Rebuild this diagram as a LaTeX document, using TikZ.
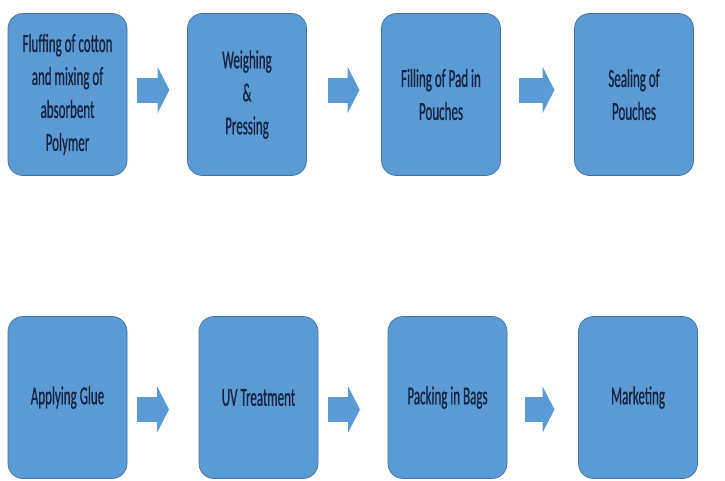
\documentclass[tikz,border=0pt]{standalone}
\usepackage{fontspec}
\setmainfont{Carlito}[FakeStretch=0.5, FakeBold=0.6]
\usepackage{tikz}
\usetikzlibrary{arrows.meta, positioning, shapes}

\definecolor{boxblue}{RGB}{91,155,213}
\definecolor{boxedge}{RGB}{65,113,156}
\definecolor{boxtext}{RGB}{22,34,62}

\begin{document}
\begin{tikzpicture}[x=1pt, y=-1pt, every node/.style={outer sep=0pt}]
\tikzstyle{stepbox}=[draw=boxedge, fill=boxblue, line width=0.7pt, rounded corners=15pt, minimum width=119pt, minimum height=162pt, align=center, text=boxtext, font=\fontsize{26}{33}\selectfont]

\tikzstyle{blockarrow}=[draw=boxblue, line width=25pt, -{Triangle[width=46pt, length=12pt]}]

\useasboundingbox [fill=white] (0,0) rectangle (725,480);

% first row
\node (fluff) [stepbox] at (67.5,94.5) {Fluffing of cotton\\and mixing of\\absorbent\\Polymer};
\node (weigh) [stepbox] at (247,94.5) {Weighing\\\&\\Pressing};
\node (fill) [stepbox] at (441,94.5) {Filling of Pad in\\Pouches};
\node (seal) [stepbox] at (634,94.5) {Sealing of\\Pouches};

% second row
\node (glue) [stepbox] at (67.5,397.5) {Applying Glue};
\node (uv) [stepbox] at (258.5,397.5) {UV Treatment};
\node (pack) [stepbox] at (447.5,397.5) {Packing in Bags};
\node (market) [stepbox] at (638,397.5) {Marketing};

\draw [blockarrow, shorten <=10pt, shorten >=18pt] ([yshift=4.5pt]fluff.east) -- ([yshift=4.5pt]weigh.west);
\draw [blockarrow, shorten <=21pt, shorten >=22pt] ([yshift=4.5pt]weigh.east) -- ([yshift=4.5pt]fill.west);
\draw [blockarrow, shorten <=18pt, shorten >=20pt] ([yshift=4.5pt]fill.east) -- ([yshift=4.5pt]seal.west);

\draw [blockarrow, shorten <=10pt, shorten >=30pt] ([yshift=-12pt]glue.east) -- ([yshift=-12pt]uv.west);
\draw [blockarrow, shorten <=10pt, shorten >=28pt] ([yshift=-12pt]uv.east) -- ([yshift=-12pt]pack.west);
\draw [blockarrow, shorten <=18pt, shorten >=24pt] ([yshift=-12pt]pack.east) -- ([yshift=-12pt]market.west);

\end{tikzpicture}
\end{document}
